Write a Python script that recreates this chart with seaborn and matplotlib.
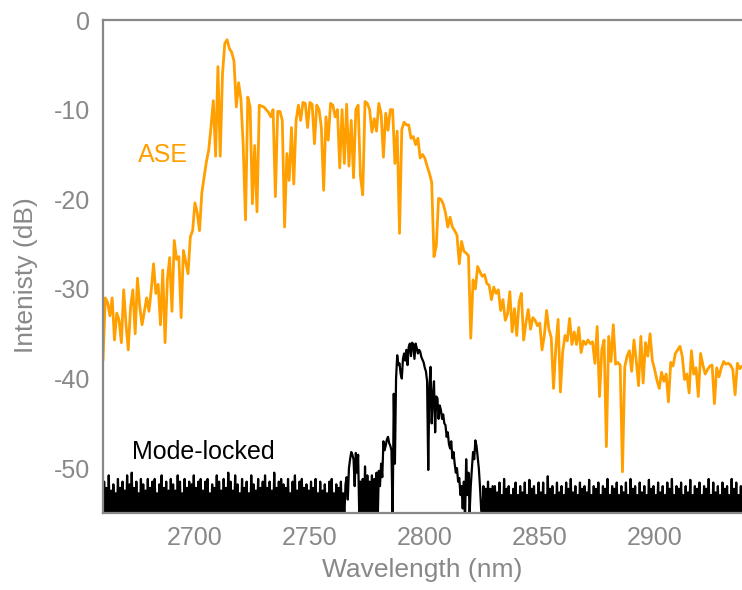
import numpy as np
import pandas as pd
import matplotlib
matplotlib.use("Agg")
import matplotlib.pyplot as plt
import seaborn as sns

# ASE spectrum, 1 nm steps starting at 2660 nm (dB)
ase_start = 2660.0
ase_step = 1.0
ase_db = [
    -38, -31, -31.5, -33, -31, -35.7, -32.7, -33.5, -36, -30.1,
    -33.9, -36.8, -32, -30.1, -35, -28.8, -32, -34, -32.5, -31,
    -32.5, -30.1, -27.2, -30.5, -29.5, -34, -27.9, -36, -29, -26.5,
    -32.5, -24.6, -26.7, -26.4, -33.2, -25.7, -27, -28.3, -24.2, -23.5,
    -20.4, -21.5, -23.5, -19.3, -17.5, -15.8, -14.5, -11.9, -9, -15.2,
    -5.2, -15.2, -6, -2.6, -2.2, -3.2, -3.6, -4.6, -9.7, -7,
    -8.8, -14, -22.3, -8.6, -9.7, -20.5, -14, -21.4, -9.5, -9.6,
    -9.7, -10, -10.3, -10.8, -10, -19.7, -10.2, -10.2, -11.2, -23.1,
    -14.9, -17.9, -12, -18.3, -11.2, -9.5, -11.2, -9.2, -9.3, -12,
    -9.2, -9.4, -13.8, -9.5, -10, -12, -19, -10.8, -13.4, -9.3,
    -9.5, -10.8, -10, -16.5, -10, -16, -9.4, -16.3, -11.2, -17.6,
    -10, -9.5, -17.4, -19.5, -9.1, -9.3, -10, -12.5, -11, -12.4,
    -9.3, -10.5, -15.3, -10.4, -12.3, -10, -10, -16, -12.4, -23.8,
    -12.2, -11.4, -11.7, -11.7, -13.2, -13, -13.9, -13.2, -15.4, -15,
    -15.4, -16.3, -17.1, -18.1, -26.4, -25.2, -19.9, -20, -20.5, -21.5,
    -23.1, -22, -23.1, -23.5, -24, -27.2, -24.7, -25.8, -26, -26.3,
    -35.5, -29, -30, -27.5, -28.1, -28.6, -28.4, -29.4, -29.6, -31.2,
    -29.8, -30.5, -30.1, -32.4, -31.2, -33.5, -32.8, -30.3, -34.8, -32.2,
    -35.2, -31.5, -30.5, -35.7, -33.8, -32.3, -34.5, -33.2, -33.5, -34.1,
    -33.8, -36.8, -35.2, -32.4, -34.5, -35.4, -41.1, -36.6, -33.4, -41.5,
    -37, -35.2, -35.8, -33.3, -36.2, -34.8, -36.2, -34.3, -37.1, -35.8,
    -36.2, -35.7, -36.1, -35.9, -38.3, -34.2, -42, -36.8, -35.7, -47.6,
    -35.3, -38.1, -34, -38.4, -38.2, -38.5, -50.4, -38.7, -37.5, -36.9,
    -39.2, -35.7, -38, -40.8, -35.3, -40.5, -36, -37.5, -35, -38,
    -39, -40.2, -41.1, -39.3, -40.3, -39.5, -42.6, -38.2, -38.6, -37.2,
    -36.8, -36.4, -37.5, -40.1, -39.5, -41.6, -36.9, -39.5, -38.8, -42,
    -37.2, -38.5, -39.5, -39, -38.6, -38.5, -42.8, -38.8, -39.8, -38.8,
    -38.1, -38.4, -38.3, -38.5, -39, -41.8, -38.3, -38.9, -38.6,
]

# Mode-locked spectrum, 0.5 nm steps starting at 2660 nm (dB)
ml_start = 2660.0
ml_step = 0.5
ml_db = [
    # 2660
    -56, -51.5, -55.5, -52.2, -56, -50.8, -55.5, -52.5, -56, -51.8, -55.5, -52.8, -56, -51.2, -55.5, -52.2, -56, -51.5, -55.5, -52.5,
    # 2670
    -56, -50.8, -55.5, -51.8, -56, -50.5, -55.5, -52.2, -56, -51.5, -55.5, -52.8, -56, -51.2, -55.5, -51.8, -56, -52.5, -55.5, -51.2,
    # 2680
    -56, -52.2, -55.5, -51.5, -56, -51.2, -55.5, -52.8, -56, -51.8, -55.5, -50.8, -56, -52.2, -55.5, -51.5, -56, -52.5, -55.5, -51.2,
    # 2690
    -56, -51.8, -55.5, -52.5, -56, -50.8, -55.5, -51.5, -56, -52.8, -55.5, -51.2, -56, -52.2, -55.5, -51.5, -56, -51.8, -55.5, -50.8,
    # 2700
    -56, -52.2, -55.5, -51.5, -56, -51.2, -55.5, -52.5, -56, -51.5, -55.5, -51.2, -56, -52.8, -55.5, -51.8, -56, -52.2, -55.5, -50.8,
    # 2710
    -56, -51.5, -55.5, -52.5, -56, -51.2, -55.5, -52.2, -56, -50.5, -55.5, -51.5, -56, -52.5, -55.5, -50.8, -56, -51.8, -55.5, -52.8,
    # 2720
    -56, -51.2, -55.5, -52.2, -56, -51.5, -55.5, -52.8, -56, -50.8, -55.5, -51.8, -56, -52.5, -55.5, -51.2, -56, -52.2, -55.5, -51.5,
    # 2730
    -56, -50.8, -55.5, -52.2, -56, -51.5, -55.5, -52.5, -56, -50.5, -55.5, -52.2, -56, -51.5, -55.5, -51.2, -56, -51.8, -55.5, -52.2,
    # 2740
    -56, -51.2, -55.5, -52.8, -56, -51.5, -55.5, -50.8, -56, -52.5, -55.5, -51.5, -56, -51.2, -55.5, -52.2, -56, -51.8, -55.5, -52.5,
    # 2750
    -56, -51.5, -55.5, -52.2, -56, -51.2, -55.5, -52.8, -56, -51.5, -55.5, -52.5, -56, -51.8, -55.5, -52.8, -56, -51.5, -55.5, -51.2,
    # 2760
    -56, -52.8, -55.5, -51.8, -56, -52.2, -55.5, -51.5, -56, -52.8, -55.5, -51.8, -51, -53.5, -50, -49, -48.2, -48.5, -49, -52,
    # 2770
    -48.3, -50.5, -48.5, -55.5, -51.5, -55.5, -51.2, -56, -49.8, -55.5, -50.8, -56, -51.5, -55.5, -50.8, -56, -51.2, -55.5, -50.5, -56,
    # 2780
    -50.3, -52, -49.5, -51, -47, -48, -47.5, -46.8, -46.5, -47.2, -47.5, -48, -56, -41.7, -49.5, -40, -37.4, -38.5, -38.3, -39.5,
    # 2790
    -40, -37.8, -37.2, -38, -36.8, -38.5, -36.5, -36.1, -37.5, -36, -36.2, -37.8, -36.1, -36.6, -37.2, -36.8, -37, -37.6, -37.9, -38.2,
    # 2800
    -38.8, -39.2, -40.3, -50.2, -41, -38.7, -45, -42, -40.3, -46, -42, -42.2, -44.5, -43, -43.5, -44.5, -44, -45, -45.2, -46.5,
    # 2810
    -46, -47.3, -47.8, -47, -48.9, -48.2, -49.5, -50.5, -50, -51.5, -51.1, -53, -52, -54.5, -51.5, -56, -49, -53, -50.5, -55,
    # 2820
    -52, -50, -48.2, -49, -46.9, -47.5, -48.7, -50, -52, -54.5, -56, -52, -55.5, -52.3, -56, -51.5, -55.5, -52.3, -56, -52,
    # 2830
    -56, -52, -55.5, -52.7, -56, -51.6, -55.5, -53, -56, -51.2, -55.5, -52.3, -56, -52, -55.5, -53, -56, -52.3, -55.5, -51.6,
    # 2840
    -56, -53, -55.5, -52, -56, -52.7, -55.5, -51.6, -56, -53, -55.5, -51.3, -56, -52.3, -55.5, -52, -56, -53, -55.5, -51.6,
    # 2850
    -56, -52.7, -55.5, -51.6, -56, -53, -55.5, -50.9, -56, -52.3, -55.5, -52, -56, -53, -55.5, -51.6, -56, -52.7, -55.5, -52,
    # 2860
    -56, -53, -55.5, -51.6, -56, -52.3, -55.5, -51.2, -56, -52.7, -55.5, -52, -56, -53, -55.5, -51.6, -56, -52.3, -55.5, -52,
    # 2870
    -56, -52.7, -55.5, -51.3, -56, -53, -55.5, -52, -56, -52.3, -55.5, -51.6, -56, -53, -55.5, -52, -56, -52.3, -55.5, -51.2,
    # 2880
    -56, -53, -55.5, -52, -56, -52.3, -55.5, -51.6, -56, -53, -55.5, -52, -56, -52.7, -55.5, -51.6, -56, -53, -55.5, -51.2,
    # 2890
    -56, -52.3, -55.5, -52, -56, -53, -55.5, -51.6, -56, -52.7, -55.5, -52, -56, -53, -55.5, -51.3, -56, -52.3, -55.5, -52,
    # 2900
    -56, -53, -55.5, -51.6, -56, -52.7, -55.5, -52, -56, -53, -55.5, -51.6, -56, -52.3, -55.5, -51.2, -56, -53, -55.5, -52,
    # 2910
    -56, -52.3, -55.5, -51.6, -56, -53, -55.5, -52, -56, -52.7, -55.5, -51.3, -56, -53, -55.5, -52, -56, -52.3, -55.5, -51.6,
    # 2920
    -56, -53, -55.5, -52, -56, -52.3, -55.5, -51.2, -56, -53, -55.5, -51.6, -56, -52.7, -55.5, -52, -56, -53, -55.5, -51.6,
    # 2930
    -56, -52.3, -55.5, -52, -56, -53, -55.5, -51.2, -56, -52.3, -55.5, -51.6, -56, -53, -55.5, -52, -56,
]

x_ticks = [2700, 2750, 2800, 2850, 2900]
y_ticks = [0, -10, -20, -30, -40, -50]

ase = pd.DataFrame({
    "wavelength": ase_start + ase_step * np.arange(len(ase_db)),
    "dB": ase_db,
})
ml = pd.DataFrame({
    "wavelength": ml_start + ml_step * np.arange(len(ml_db)),
    "dB": ml_db,
})

sns.set_style("white")
plt.rcParams["font.family"] = ["Liberation Sans", "DejaVu Sans"]

GREY = "#888888"
ORANGE = "#FF9F00"

fig = plt.figure(figsize=(7.42, 5.90), dpi=100)
ax = fig.add_axes([0.1388, 0.1305, 0.8612, 0.8356])

sns.lineplot(data=ml, x="wavelength", y="dB", ax=ax, color="black",
             lw=1.6, estimator=None, sort=False)
sns.lineplot(data=ase, x="wavelength", y="dB", ax=ax, color=ORANGE,
             lw=2.0, estimator=None, sort=False)

ax.set_xlim(2660, 2938)
ax.set_ylim(-55, 0)
ax.set_xticks(x_ticks)
ax.set_yticks(y_ticks)
ax.set_xticklabels([str(t) for t in x_ticks])
ax.set_yticklabels([str(t) for t in y_ticks])

ax.tick_params(axis="both", direction="in", length=7, width=1.5,
               color=GREY, labelcolor=GREY, labelsize=18, pad=9)

for side in ("left", "bottom", "top"):
    ax.spines[side].set_visible(True)
    ax.spines[side].set_color(GREY)
    ax.spines[side].set_linewidth(1.6)
ax.spines["right"].set_visible(False)

ax.set_xlabel("Wavelength (nm)", color=GREY, fontsize=19, labelpad=6)
ax.set_ylabel("Intenisty (dB)", color=GREY, fontsize=19)
ax.yaxis.set_label_coords(-0.101, 0.483)

ax.text(2686, -15.1, "ASE", color=ORANGE, fontsize=18,
        ha="center", va="center")
ax.text(2703.5, -48.2, "Mode-locked", color="black", fontsize=18,
        ha="center", va="center")

fig.savefig("out.png", dpi=100)
